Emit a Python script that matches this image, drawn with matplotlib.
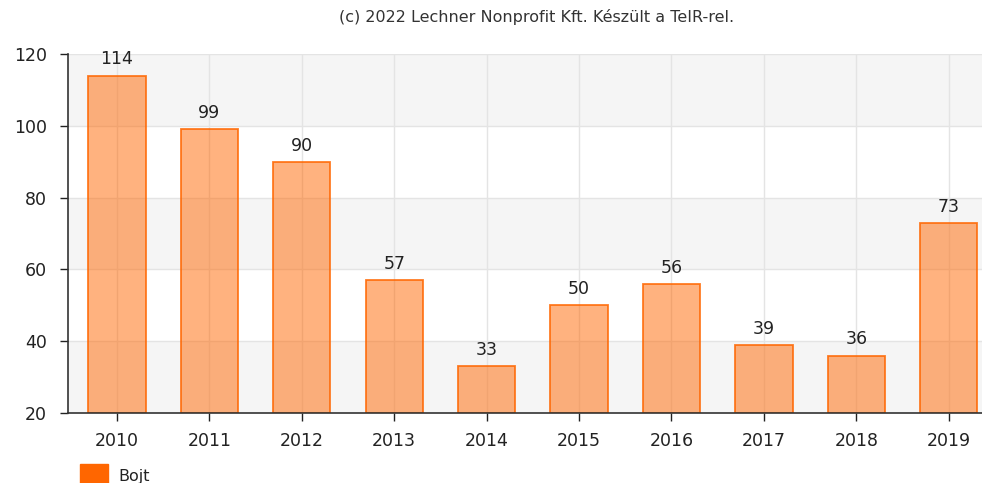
import matplotlib.pyplot as plt
from matplotlib.patches import Rectangle

years = ["2010", "2011", "2012", "2013", "2014", "2015", "2016", "2017", "2018", "2019"]
values = [114, 99, 90, 57, 33, 50, 56, 39, 36, 73]
series_name = "Bojt"
title = "(c) 2022 Lechner Nonprofit Kft. Készült a TeIR-rel."

plt.rcParams["font.family"] = ["DejaVu Sans"]

def main():
    fig = plt.figure(figsize=(9.82, 4.83), dpi=100)
    ax = fig.add_axes([68 / 982, 1 - 413 / 483, 1 - 68 / 982, (413 - 54) / 483])

    # alternating bands
    for lo in (20, 60, 100):
        ax.axhspan(lo, lo + 20, color="#f5f5f5", zorder=0, lw=0)
    for y in (40, 60, 80, 100, 120):
        ax.axhline(y, color="#e4e4e4", lw=1, zorder=0.5)

    x = list(range(len(years)))
    for xi in x:
        ax.axvline(xi, color="#e4e4e4", lw=1, zorder=0.5)

    bars = ax.bar(x, [v - 20 for v in values], bottom=20, width=0.62,
                  color=(1.0, 0.4, 0.0, 0.5), edgecolor=(1.0, 0.4, 0.0, 0.85),
                  lw=1.3, zorder=2)
    for b, v in zip(bars, values):
        ax.text(b.get_x() + b.get_width() / 2, v + 2.0, str(v), ha="center",
                va="bottom", fontsize=12.5, color="#222222")

    ax.set_xlim(-0.53, 9.36)
    ax.set_ylim(20, 120)
    ax.set_yticks([20, 40, 60, 80, 100, 120])
    ax.set_xticks(x)
    ax.set_xticklabels(years)
    ax.tick_params(axis="both", labelsize=12.5, colors="#222222", length=6, width=1)
    ax.tick_params(axis="y", pad=9)
    ax.tick_params(axis="x", pad=8)
    for s in ("top", "right"):
        ax.spines[s].set_visible(False)
    for s in ("left", "bottom"):
        ax.spines[s].set_color("#333333")
        ax.spines[s].set_linewidth(1.2)

    fig.text(537 / 982, 1 - 17 / 483, title, ha="center", va="center",
             fontsize=11.5, color="#333333")

    # legend
    fig.patches.append(Rectangle((80 / 982, 0), 28 / 982, 19 / 483,
                                 transform=fig.transFigure, color="#ff6600"))
    fig.text(118 / 982, 1 - 476 / 483, series_name, ha="left", va="center",
             fontsize=11.5, color="#222222")

    fig.savefig("out.png", dpi=100)

if __name__ == "__main__":
    main()
